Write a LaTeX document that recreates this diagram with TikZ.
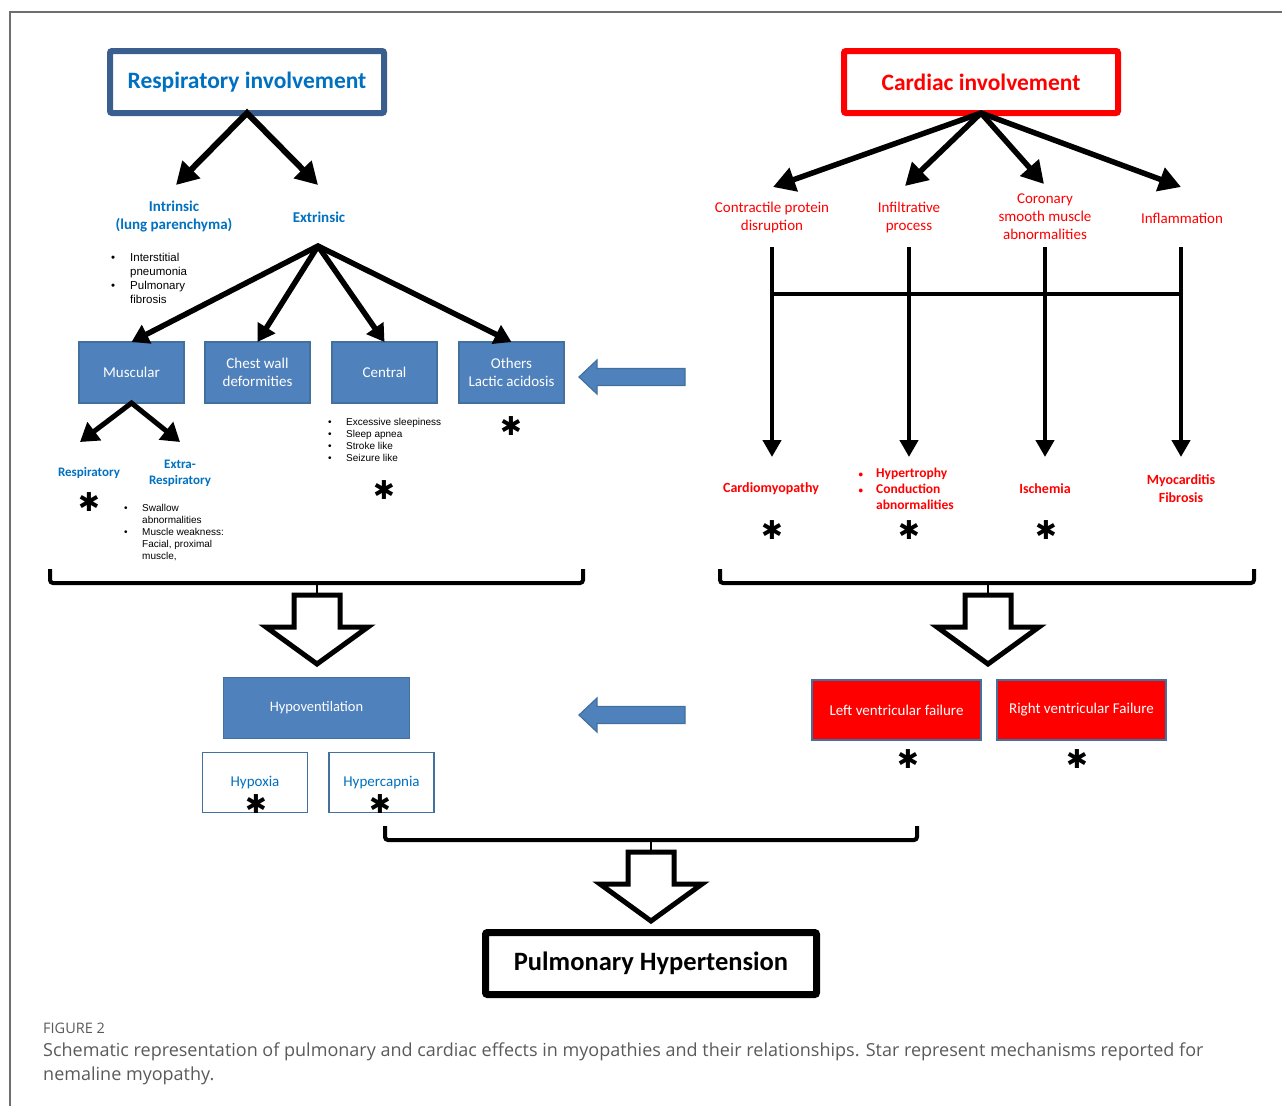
\documentclass[tikz,border=0pt]{standalone}
\usepackage{fontspec}
\setmainfont{Carlito}
\newfontfamily\arialfont{Liberation Sans}
\newfontfamily\capfont{Open Sans}
\newfontfamily\symfont{DejaVu Sans}
\usetikzlibrary{arrows.meta}
\definecolor{respblue}{HTML}{0070C0}
\definecolor{respframe}{HTML}{3A5F8F}
\definecolor{boxfill}{HTML}{4F81BD}
\definecolor{boxline}{HTML}{41719C}
\definecolor{cardred}{HTML}{FF0000}
\definecolor{framegray}{HTML}{6E6E6E}
\definecolor{capgray}{HTML}{5A5A5A}
\newcommand\smallbul{{\fontsize{9}{9}\selectfont •}}

\tikzset{
  headbox/.style={draw, line width=6pt, rounded corners=2pt, minimum width=274pt, minimum height=62pt,
    inner sep=0pt, outer sep=0pt, font=\fontsize{23.5}{27}\selectfont\bfseries},
  bluebox/.style={draw=boxline, fill=boxfill, line width=1.2pt, text=white, minimum width=105pt,
    minimum height=61pt, inner sep=0pt, outer sep=0pt, align=center, font=\fontsize{15}{18}\selectfont},
  gasbox/.style={draw=boxline, fill=white, line width=1.2pt, text=respblue, minimum width=105pt,
    minimum height=60pt, inner sep=0pt, outer sep=0pt, font=\fontsize{15}{18}\selectfont},
  redbox/.style={draw=boxline, fill=cardred, line width=1.2pt, text=white, minimum width=169pt,
    minimum height=60pt, inner sep=0pt, outer sep=0pt, font=\fontsize{15}{18}\selectfont},
  rlabel/.style={text=respblue, align=center, inner sep=0pt, font=\fontsize{15}{18}\selectfont\bfseries},
  clabel/.style={text=cardred, align=center, inner sep=0pt, font=\fontsize{15}{18}\selectfont},
  cresult/.style={text=cardred, align=center, inner sep=0pt, font=\fontsize{14}{18}\selectfont\bfseries},
  bullets/.style={anchor=base west, inner sep=0pt, font=\arialfont\fontsize{10}{12}\selectfont},
  ast/.style={inner sep=0pt, font=\symfont\fontsize{26}{26}\selectfont},
  fatarrow/.style={line width=6pt, {Triangle[length=22pt,width=24pt]}-{Triangle[length=22pt,width=24pt]}},
  fanarrow/.style={line width=5.5pt, -{Triangle[length=17pt,width=20pt]}},
  varrow/.style={line width=4.5pt, -{Triangle[length=17pt,width=18pt]}},
  bracket/.style={line width=4pt, rounded corners=3pt},
  hollow/.style={line width=5pt, fill=white, line join=miter},
  blockarrow/.style={draw=boxline, fill=boxfill, line width=1.2pt}
}

\begin{document}
\begin{tikzpicture}[x=1pt, y=-1pt]
  \useasboundingbox (0,0) rectangle (1282,1106);

  % page frame
  \draw[framegray, line width=1.2pt] (1282,12) -- (10,12) -- (10,1106);

  % respiratory side: heading and first split
  \node[headbox, draw=respframe, text=respblue] (resp) at (247,82) {Respiratory involvement};
  \coordinate (intrtip) at (176,185);
  \coordinate (extrtip) at (318,185);
  \draw[fatarrow] (intrtip) -- (resp.south) -- (extrtip);

  \node[rlabel] (intr) at (174,217) {Intrinsic\\(lung parenchyma)};
  \node[rlabel] (extr) at (319,217) {Extrinsic};
  \node[bullets, font=\arialfont\fontsize{11.5}{14}\selectfont] (intrlist) at (111,261)
    {\begin{tabular}[t]{@{}p{19pt}@{}l@{}}
      • & Interstitial\\ & pneumonia\\ • & Pulmonary\\ & fibrosis
    \end{tabular}};

  % extrinsic causes
  \node[bluebox] (musc)  at (131.5,372.5) {Muscular};
  \node[bluebox] (chest) at (257.5,372.5) {Chest wall\\deformities};
  \node[bluebox] (centr) at (384.5,372.5) {Central};
  \node[bluebox] (other) at (511.5,372.5) {Others\\Lactic acidosis};
  \coordinate (extrfork) at (318,246);
  \draw[line width=5.5pt, {Triangle[length=17pt,width=20pt]}-{Triangle[length=17pt,width=20pt]}]
    (musc.north) -- (extrfork) -- (other.north);
  \foreach \b in {chest,centr} {
      \draw[fanarrow] (extrfork) -- (\b.north);
    }

  % muscular split
  \coordinate (mresptip) at (80,442);
  \coordinate (mextratip) at (180,442);
  \draw[line width=5pt, {Triangle[length=18pt,width=22pt]}-{Triangle[length=18pt,width=22pt]}]
    (mresptip) -- (musc.south) -- (mextratip);
  \node[rlabel, font=\fontsize{13}{16}\selectfont\bfseries] (mresp) at (89,473) {Respiratory};
  \node[rlabel, font=\fontsize{13}{16}\selectfont\bfseries] (mextra) at (180,473) {Extra-\\Respiratory};
  \node[bullets] (extralist) at (124,511.5)
    {\begin{tabular}[t]{@{}p{18pt}@{}l@{}}
      • & Swallow\\ & abnormalities\\ • & Muscle weakness:\\ & Facial, proximal\\ & muscle,
    \end{tabular}};
  \node[bullets] (centrlist) at (328,425.5)
    {\begin{tabular}[t]{@{}p{18pt}@{}l@{}}
      • & Excessive sleepiness\\ • & Sleep apnea\\ • & Stroke like\\ • & Seizure like
    \end{tabular}};

  % cardiac side: heading and causes
  \node[headbox, draw=cardred, text=cardred] (card) at (981,82) {Cardiac involvement};
  \node[clabel] (contr) at (772,217) {Contractile protein\\disruption};
  \node[clabel] (infil) at (909,217) {Infiltrative\\process};
  \node[clabel] (coron) at (1045,217) {Coronary\\smooth muscle\\abnormalities};
  \node[clabel] (infl)  at (1182,218) {Inflammation};
  \coordinate (contrtip) at (773,187);
  \coordinate (infiltip) at (905,186);
  \coordinate (corontip) at (1044,184);
  \coordinate (infltip)  at (1181,187);
  \draw[fatarrow, line width=5.5pt] (contrtip) -- (card.south) -- (infltip);
  \draw[fatarrow, line width=5.5pt, -{Triangle[length=22pt,width=24pt]}] (card.south) -- (infiltip);
  \draw[fatarrow, line width=5.5pt, -{Triangle[length=22pt,width=24pt]}] (card.south) -- (corontip);

  % vertical arrows and cross bar
  \foreach \n/\x in {a/772,b/909,c/1045,d/1181} {
      \coordinate (top\n) at (\x,247);
      \coordinate (tip\n) at (\x,457);
      \draw[varrow] (top\n) -- (tip\n);
    }
  \draw[line width=4.5pt] ([yshift=-47pt]topa) -- ([yshift=-47pt]topd);

  % cardiac results
  \node[cresult] (cardio) at (771,489) {Cardiomyopathy};
  \node[bullets, text=cardred, font=\fontsize{13.5}{16}\selectfont\bfseries] (hyper) at (858.5,477.5)
    {\begin{tabular}[t]{@{}p{17.5pt}@{}l@{}}
      \smallbul & Hypertrophy\\ \smallbul & Conduction\\ & abnormalities
    \end{tabular}};
  \node[cresult] (isch) at (1045,489) {Ischemia};
  \node[cresult] (myoc) at (1181,489) {Myocarditis\\Fibrosis};

  % brackets and hollow arrows
  \draw[bracket] (50,569) -- (50,583) -- (583,583) -- (583,569);
  \draw[bracket] (720,569) -- (720,583) -- (1254,583) -- (1254,569);
  \draw[bracket] (385,826) -- (385,840) -- (917,840) -- (917,826);
  \foreach \cx/\cy in {317/583, 988/583, 651/840} {
      \draw[line width=2pt] (\cx,\cy) -- (\cx,\cy+12);
      \draw[hollow] (\cx-23,\cy+12) -- (\cx+23,\cy+12) -- (\cx+23,\cy+44) -- (\cx+51,\cy+44)
        -- (\cx,\cy+81) -- (\cx-51,\cy+44) -- (\cx-23,\cy+44) -- cycle;
    }

  % blue block arrows pointing left
  \foreach \cy in {377,715} {
      \draw[blockarrow] (685,\cy-8.5) -- (597,\cy-8.5) -- (597,\cy-17) -- (579,\cy)
        -- (597,\cy+17) -- (597,\cy+8.5) -- (685,\cy+8.5) -- cycle;
    }

  % lower boxes
  \node[bluebox, minimum width=186pt, font=\fontsize{14.5}{18}\selectfont] (hypov) at (316.5,708) {Hypoventilation};
  \node[gasbox] (hypox) at (255,782.5) {Hypoxia};
  \node[gasbox] (hyperc) at (381.5,782.5) {Hypercapnia};
  \node[redbox] (lvf) at (896.5,710) {Left ventricular failure};
  \node[redbox] (rvf) at (1081.5,710) {Right ventricular Failure};

  % outcome
  \node[draw, line width=7pt, rounded corners=2pt, minimum width=331pt, minimum height=62pt,
    inner sep=0pt, font=\fontsize{26.5}{30}\selectfont\bfseries] (ph) at (651,963.5) {Pulmonary Hypertension};

  % stars for nemaline myopathy
  \foreach \x/\y [count=\i] in {89/502, 384/490, 511/426, 772/530, 909/530, 1046/530,
      256/804, 380/804, 908/759, 1077/759} {
      \node[ast] (star\i) at (\x,\y) {✱};
    }

  % caption
  \node[anchor=base west, inner sep=0pt, text=capgray, font=\capfont\fontsize{14.5}{16}\selectfont] (fig) at (43,1033) {FIGURE 2};
  \node[anchor=north west, align=left, inner sep=0pt, text=capgray, font=\capfont\fontsize{18}{24}\selectfont] (cap) at (43,1043)
    {Schematic representation of pulmonary and cardiac effects in myopathies and their relationships. Star represent mechanisms reported for\\
     nemaline myopathy.};
\end{tikzpicture}
\end{document}
